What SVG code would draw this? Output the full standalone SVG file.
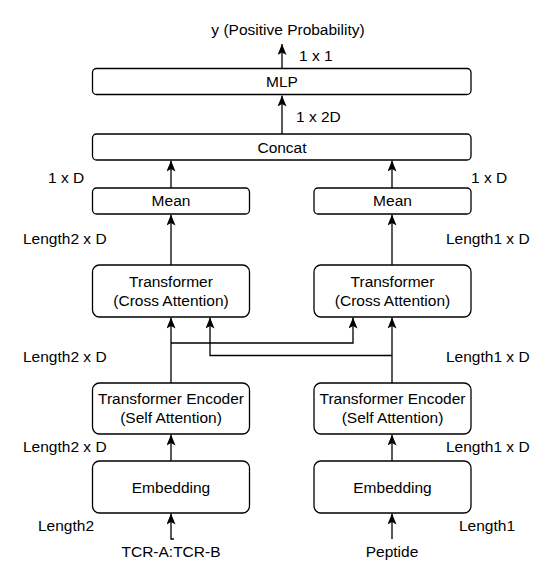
<svg xmlns="http://www.w3.org/2000/svg" width="551" height="580" viewBox="0 0 551 580">
<style>
.box{fill:#fff;stroke:#000;stroke-width:1.3}
.t{font-family:"Liberation Sans",Arial,Helvetica,sans-serif;font-size:15.5px;fill:#000}
.m{text-anchor:middle}
.c{fill:none;stroke:#000;stroke-width:1.3}
</style>
<defs>
<marker id="ah" markerUnits="userSpaceOnUse" markerWidth="11" markerHeight="9" refX="11" refY="4.5" orient="auto" viewBox="0 0 11 9">
<path d="M11,4.5 L0,0 L2.6,4.5 L0,9 Z" fill="#000"/>
</marker>
</defs>
<rect width="551" height="580" fill="#fff"/>
<g id="connectors">
<path class="c" d="M282,68.5 V44" marker-end="url(#ah)"/>
<path class="c" d="M282,134 V95.5" marker-end="url(#ah)"/>
<path class="c" d="M171,188 V160.5" marker-end="url(#ah)"/>
<path class="c" d="M392,188 V160.5" marker-end="url(#ah)"/>
<path class="c" d="M171,265 V214.5" marker-end="url(#ah)"/>
<path class="c" d="M392,265 V214.5" marker-end="url(#ah)"/>
<path class="c" d="M171,383 V317.5" marker-end="url(#ah)"/>
<path class="c" d="M171,343 H353 V317.5" marker-end="url(#ah)"/>
<path class="c" d="M392,383 V317.5" marker-end="url(#ah)"/>
<path class="c" d="M392,355.5 H210 V317.5" marker-end="url(#ah)"/>
<path class="c" d="M171,461 V434.5" marker-end="url(#ah)"/>
<path class="c" d="M392,461 V434.5" marker-end="url(#ah)"/>
<path class="c" d="M174,539 H171 V513.5" marker-end="url(#ah)"/>
<path class="c" d="M392,539 V513.5" marker-end="url(#ah)"/>
</g>
<g id="labels">
<text class="t m" x="288" y="35">y (Positive Probability)</text>
<text class="t" x="299" y="61">1 x 1</text>
<text class="t" x="296" y="122">1 x 2D</text>
<text class="t" x="48" y="183">1 x D</text>
<text class="t" x="471" y="183">1 x D</text>
<text class="t" x="23" y="244">Length2 x D</text>
<text class="t" x="446" y="244">Length1 x D</text>
<text class="t" x="23" y="362">Length2 x D</text>
<text class="t" x="446" y="362">Length1 x D</text>
<text class="t" x="23" y="452">Length2 x D</text>
<text class="t" x="446" y="452">Length1 x D</text>
<text class="t" x="38" y="531">Length2</text>
<text class="t" x="459" y="531">Length1</text>
<text class="t m" x="171" y="557">TCR-A:TCR-B</text>
<text class="t m" x="392" y="557">Peptide</text>
</g>
<g id="mlp">
<rect class="box" x="92.5" y="68.5" width="378.5" height="26" rx="4"/>
<text class="t m" x="282" y="87">MLP</text>
</g>
<g id="concat">
<rect class="box" x="92.5" y="134" width="378.5" height="26" rx="4"/>
<text class="t m" x="282" y="153">Concat</text>
</g>
<g id="mean-left">
<rect class="box" x="92.5" y="188" width="157" height="26" rx="4"/>
<text class="t m" x="171" y="206">Mean</text>
</g>
<g id="mean-right">
<rect class="box" x="314" y="188" width="157" height="26" rx="4"/>
<text class="t m" x="392.5" y="206">Mean</text>
</g>
<g id="cross-left">
<rect class="box" x="92.5" y="265" width="157" height="52" rx="7"/>
<text class="t m" x="171" y="287">Transformer</text>
<text class="t m" x="171" y="306">(Cross Attention)</text>
</g>
<g id="cross-right">
<rect class="box" x="314" y="265" width="157" height="52" rx="7"/>
<text class="t m" x="392.5" y="287">Transformer</text>
<text class="t m" x="392.5" y="306">(Cross Attention)</text>
</g>
<g id="encoder-left">
<rect class="box" x="92.5" y="383" width="157" height="51" rx="7"/>
<text class="t m" x="171" y="404">Transformer Encoder</text>
<text class="t m" x="171" y="423">(Self Attention)</text>
</g>
<g id="encoder-right">
<rect class="box" x="314" y="383" width="157" height="51" rx="7"/>
<text class="t m" x="392.5" y="404">Transformer Encoder</text>
<text class="t m" x="392.5" y="423">(Self Attention)</text>
</g>
<g id="embedding-left">
<rect class="box" x="92.5" y="461" width="157" height="52" rx="7"/>
<text class="t m" x="171" y="492.5">Embedding</text>
</g>
<g id="embedding-right">
<rect class="box" x="314" y="461" width="157" height="52" rx="7"/>
<text class="t m" x="392.5" y="492.5">Embedding</text>
</g>
</svg>
